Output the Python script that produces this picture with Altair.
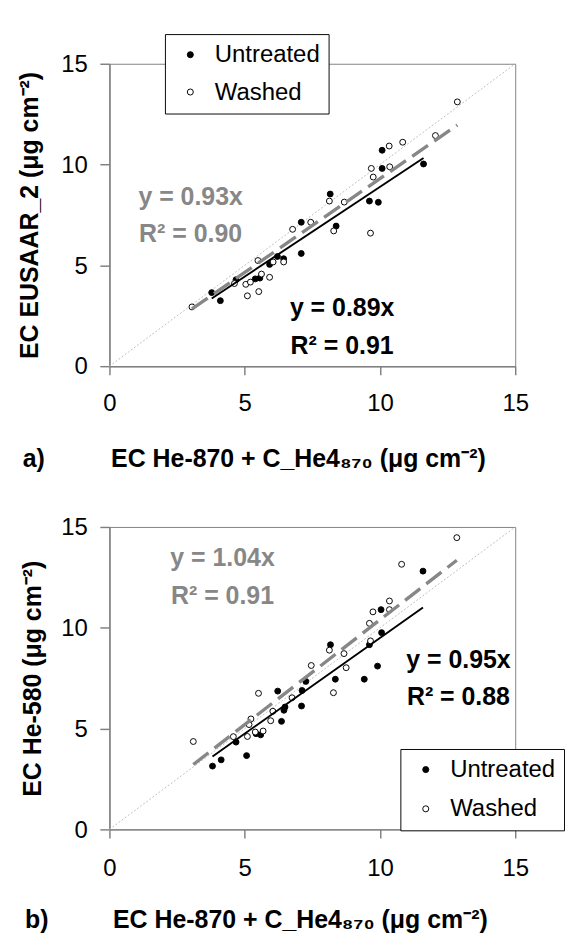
import altair as alt
import pandas as pd

FONT = "Liberation Sans"
GRAY = "#878787"
AXIS_GRAY = "#7f7f7f"

ticks = [0, 5, 10, 15]
series_names = ["Untreated", "Washed"]
panel_tags = ["a)", "b)"]
x_title = "EC He-870 + C_He4₈₇₀ (μg cm⁻²)"
a_y_title = "EC EUSAAR_2 (μg cm⁻²)"
b_y_title = "EC He-580 (μg cm⁻²)"

# ---- panel a data ----
a_unt_x = [3.78, 4.10, 4.68, 5.39, 5.56, 5.92, 6.21, 6.44, 7.09, 7.09, 8.16, 8.38, 9.61, 9.94, 10.08, 10.08, 11.61]
a_unt_y = [3.65, 3.25, 4.29, 4.33, 4.37, 5.05, 5.44, 5.33, 5.59, 7.14, 8.54, 6.95, 8.19, 8.13, 10.71, 9.81, 10.03]
a_wsh_x = [3.05, 4.62, 5.04, 5.21, 5.10, 5.52, 5.49, 5.62, 5.92, 6.05, 6.44, 6.77, 7.44, 8.13, 8.29, 8.68,
           9.65, 9.68, 9.75, 10.34, 10.36, 10.84, 12.05, 12.86]
a_wsh_y = [2.94, 4.10, 4.06, 4.17, 3.49, 3.70, 5.24, 4.57, 4.41, 5.17, 5.17, 6.79, 7.14, 8.19, 6.71, 8.14,
           6.60, 9.81, 9.38, 10.92, 9.89, 11.11, 11.44, 13.11]
a_fit_unt_x = [3.78, 11.61]
a_fit_unt_y = [3.36, 10.33]
a_fit_wsh_x = [3.05, 12.86]
a_fit_wsh_y = [2.84, 11.96]
a_notes_text = ["y = 0.93x", "R² = 0.90", "y = 0.89x", "R² = 0.91"]
a_notes_x = [3.0, 3.0, 8.6, 8.6]
a_notes_y = [8.38, 6.56, 2.86, 1.0]
a_notes_series = ["Washed", "Washed", "Untreated", "Untreated"]

# ---- panel b data ----
b_unt_x = [3.81, 4.13, 4.68, 5.07, 5.42, 5.59, 6.22, 6.36, 6.45, 6.49, 7.10, 7.12, 7.26, 8.17, 8.35, 9.42,
           9.61, 9.91, 10.04, 10.06, 11.59]
b_unt_y = [3.14, 3.45, 4.33, 3.66, 4.75, 4.69, 6.86, 5.36, 5.91, 6.07, 6.12, 6.89, 7.34, 9.16, 7.45, 7.45,
           9.16, 8.10, 10.90, 9.76, 12.81]
b_wsh_x = [3.10, 4.58, 5.10, 5.16, 5.23, 5.39, 5.51, 5.68, 5.96, 6.04, 6.75, 7.46, 8.13, 8.28, 8.67, 8.75,
           9.61, 9.65, 9.74, 10.35, 10.35, 10.80, 12.84]
b_wsh_y = [4.36, 4.60, 4.61, 5.20, 5.48, 4.83, 6.75, 4.88, 5.39, 5.86, 6.53, 8.13, 8.89, 6.78, 8.72, 8.02,
           10.22, 9.35, 10.79, 11.33, 10.90, 13.15, 14.47]
b_fit_unt_x = [3.81, 11.59]
b_fit_unt_y = [3.62, 11.01]
b_fit_wsh_x = [3.10, 12.84]
b_fit_wsh_y = [3.22, 13.35]
b_notes_text = ["y = 1.04x", "R² = 0.91", "y = 0.95x", "R² = 0.88"]
b_notes_x = [4.18, 4.18, 12.9, 12.9]
b_notes_y = [13.44, 11.54, 8.37, 6.55]
b_notes_series = ["Washed", "Washed", "Untreated", "Untreated"]

diag_xy = [0, 15]

W, H = 424, 316


def panel(ux, uy, wx, wy, fux, fuy, fwx, fwy, nt, nx, ny, ns, ytitle, tag,
          leg_x, leg_y, leg_rowpad, lab_pad, title_y, title_x, ytitle_x, tag_x):
    pts = pd.DataFrame({"x": ux + wx, "y": uy + wy,
                        "series": [series_names[0]] * len(ux) + [series_names[1]] * len(wx)})
    xs = alt.Scale(domain=[0, 15], nice=False)
    ys = alt.Scale(domain=[0, 15], nice=False)
    xaxis = alt.Axis(values=ticks, title=x_title, grid=False, tickSize=9, labelPadding=lab_pad,
                     labelFontSize=25, labelFont=FONT, labelColor="black", labelFlush=False,
                     titleFont=FONT, titleFontSize=26, titleFontWeight="bold", titleColor="black",
                     titleX=title_x, titleY=title_y, titleBaseline="middle", titleAlign="center",
                     domainColor=AXIS_GRAY, tickColor=AXIS_GRAY, domainWidth=1.5, tickWidth=1.5)
    yaxis = alt.Axis(values=ticks, title=ytitle, grid=False, tickSize=10, labelPadding=13,
                     labelFontSize=25, labelFont=FONT, labelColor="black", labelFlush=False,
                     titleFont=FONT, titleFontSize=26, titleFontWeight="bold", titleColor="black",
                     titleX=ytitle_x, titleY=H / 2, titleBaseline="middle", titleAlign="center",
                     titleAngle=270,
                     domainColor=AXIS_GRAY, tickColor=AXIS_GRAY, domainWidth=1.5, tickWidth=1.5)
    X = alt.X("x:Q", scale=xs, axis=xaxis)
    Y = alt.Y("y:Q", scale=ys, axis=yaxis)

    diag = alt.Chart(pd.DataFrame({"x": diag_xy, "y": diag_xy})).mark_line(
        color="#bcbcbc", strokeDash=[2, 2], strokeWidth=1).encode(x=X, y=Y)

    legend = alt.Legend(orient="none", legendX=leg_x, legendY=leg_y, title=None,
                        labelFont=FONT, labelFontSize=25, labelColor="black",
                        strokeColor="black", fillColor="white", padding=9,
                        symbolType="circle", symbolSize=40, symbolStrokeColor="black",
                        symbolStrokeWidth=1, symbolOpacity=1, rowPadding=leg_rowpad,
                        labelOffset=13, symbolOffset=5, cornerRadius=0)
    points = alt.Chart(pts).mark_circle(size=38, stroke="black", strokeWidth=1, opacity=1).encode(
        x="x:Q", y="y:Q",
        fill=alt.Fill("series:N", scale=alt.Scale(domain=series_names, range=["black", "white"]),
                      legend=legend))

    fw = alt.Chart(pd.DataFrame({"x": fwx, "y": fwy})).mark_line(
        color=GRAY, strokeDash=[20, 8], strokeWidth=3.5).encode(x="x:Q", y="y:Q")
    fu = alt.Chart(pd.DataFrame({"x": fux, "y": fuy})).mark_line(
        color="black", strokeWidth=2).encode(x="x:Q", y="y:Q")

    notes = alt.Chart(pd.DataFrame({"x": nx, "y": ny, "t": nt, "series": ns})).mark_text(
        font=FONT, fontSize=26, fontWeight="bold", align="center", baseline="middle").encode(
        x="x:Q", y="y:Q", text="t:N",
        color=alt.Color("series:N", scale=alt.Scale(domain=series_names, range=["black", GRAY]),
                        legend=None))

    tagc = alt.Chart(pd.DataFrame({"t": [tag]})).mark_text(
        font=FONT, fontSize=26, fontWeight="bold", align="center", baseline="middle",
        color="black").encode(x=alt.value(tag_x), y=alt.value(H + title_y), text="t:N")

    return alt.layer(diag, points, fw, fu, notes, tagc).properties(width=W, height=H)


pa = panel(a_unt_x, a_unt_y, a_wsh_x, a_wsh_y, a_fit_unt_x, a_fit_unt_y, a_fit_wsh_x, a_fit_wsh_y,
           a_notes_text, a_notes_x, a_notes_y, a_notes_series, a_y_title, panel_tags[0],
           leg_x=58, leg_y=-31, leg_rowpad=13, lab_pad=17, title_y=97, title_x=197,
           ytitle_x=-83, tag_x=-79)
pb = panel(b_unt_x, b_unt_y, b_wsh_x, b_wsh_y, b_fit_unt_x, b_fit_unt_y, b_fit_wsh_x, b_fit_wsh_y,
           b_notes_text, b_notes_x, b_notes_y, b_notes_series, b_y_title, panel_tags[1],
           leg_x=304, leg_y=232, leg_rowpad=15, lab_pad=19, title_y=95, title_x=199,
           ytitle_x=-80, tag_x=-76)

chart = alt.vconcat(pa, pb, spacing=44).resolve_scale(
    fill="independent", color="independent", x="independent", y="independent"
).resolve_legend(fill="independent").properties(
    padding={"left": 9, "top": 5, "right": 0, "bottom": 2}
).configure_view(stroke=AXIS_GRAY, strokeWidth=1)

chart.save("out.html", embed_options={"renderer": "svg", "actions": False})
